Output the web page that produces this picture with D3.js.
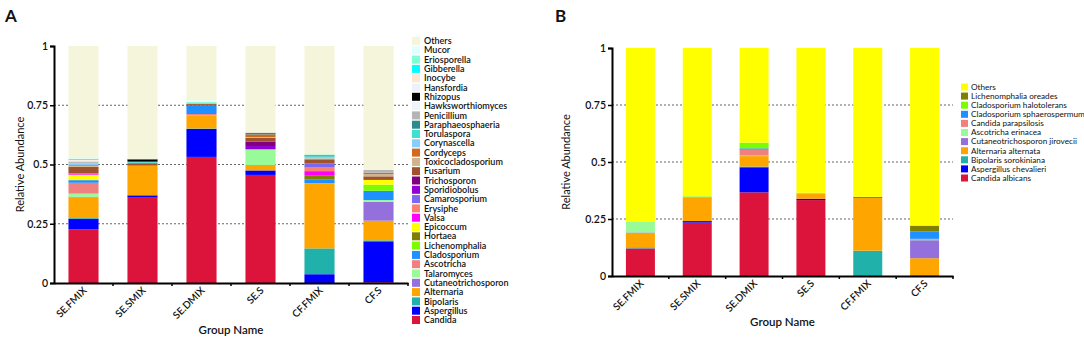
<!DOCTYPE html>
<html>
<head>
<meta charset="utf-8">
<script src="https://cdn.jsdelivr.net/npm/d3@7"></script>
<style>
  body { margin: 0; background: #fff; }
  text { font-family: Lato, 'Open Sans', sans-serif; fill: #111; }
</style>
</head>
<body>
<div id="chart"></div>
<script>
const groups = ['SE.FMIX', 'SE.SMIX', 'SE.DMIX', 'SE.S', 'CF.FMIX', 'CF.S'];
const yTicks = [0, 0.25, 0.5, 0.75, 1];

// panel A: genus level, listed bottom of the stack first
const taxaA = [
  'Candida', 'Aspergillus', 'Bipolaris', 'Alternaria', 'Cutaneotrichosporon',
  'Talaromyces', 'Ascotricha', 'Cladosporium', 'Lichenomphalia', 'Hortaea',
  'Epicoccum', 'Valsa', 'Erysiphe', 'Camarosporium', 'Sporidiobolus',
  'Trichosporon', 'Fusarium', 'Toxicocladosporium', 'Cordyceps', 'Corynascella',
  'Torulaspora', 'Paraphaeosphaeria', 'Penicillium', 'Hawksworthiomyces', 'Rhizopus',
  'Hansfordia', 'Inocybe', 'Gibberella', 'Eriosporella', 'Mucor', 'Others',
];
const colorsA = [
  '#dc143c', '#0000ff', '#20b2aa', '#ffa500', '#9370db',
  '#98fb98', '#f08080', '#1e90ff', '#7cfc00', '#808000',
  '#ffff00', '#ff00ff', '#fa8072', '#7b68ee', '#9400d3',
  '#800080', '#a0522d', '#d2b48c', '#d2691e', '#87cefa',
  '#40e0d0', '#2e8b8b', '#b5b5b5', '#eef6fd', '#000000',
  '#eaf2fb', '#fae6d2', '#00ffff', '#7fffd4', '#e0ffff', '#f5f5dc',
];
// one row per taxon, one value per group
const abundanceA = [
  [0.227, 0.360, 0.532, 0.456, 0.000, 0.003],
  [0.044, 0.010, 0.118, 0.019, 0.037, 0.173],
  [0.003, 0.000, 0.002, 0.000, 0.109, 0.004],
  [0.088, 0.124, 0.055, 0.023, 0.272, 0.083],
  [0.002, 0.000, 0.000, 0.000, 0.000, 0.080],
  [0.013, 0.000, 0.000, 0.066, 0.002, 0.007],
  [0.046, 0.000, 0.006, 0.000, 0.000, 0.000],
  [0.011, 0.002, 0.035, 0.000, 0.016, 0.039],
  [0.000, 0.000, 0.000, 0.000, 0.000, 0.026],
  [0.000, 0.000, 0.000, 0.000, 0.019, 0.000],
  [0.022, 0.000, 0.000, 0.000, 0.000, 0.020],
  [0.003, 0.000, 0.000, 0.000, 0.017, 0.000],
  [0.003, 0.000, 0.000, 0.000, 0.015, 0.000],
  [0.000, 0.000, 0.000, 0.000, 0.017, 0.000],
  [0.000, 0.000, 0.000, 0.014, 0.000, 0.000],
  [0.000, 0.000, 0.000, 0.019, 0.000, 0.000],
  [0.028, 0.006, 0.007, 0.016, 0.018, 0.015],
  [0.005, 0.000, 0.003, 0.003, 0.004, 0.010],
  [0.003, 0.004, 0.000, 0.011, 0.000, 0.005],
  [0.006, 0.000, 0.000, 0.000, 0.003, 0.000],
  [0.003, 0.004, 0.000, 0.000, 0.006, 0.000],
  [0.000, 0.000, 0.000, 0.006, 0.004, 0.000],
  [0.006, 0.002, 0.002, 0.002, 0.002, 0.012],
  [0.002, 0.000, 0.000, 0.000, 0.000, 0.000],
  [0.000, 0.010, 0.000, 0.000, 0.000, 0.000],
  [0.002, 0.000, 0.000, 0.000, 0.000, 0.002],
  [0.003, 0.000, 0.000, 0.000, 0.000, 0.000],
  [0.004, 0.000, 0.000, 0.000, 0.000, 0.000],
  [0.000, 0.002, 0.004, 0.000, 0.002, 0.000],
  [0.002, 0.000, 0.007, 0.000, 0.000, 0.000],
  [0.474, 0.476, 0.229, 0.365, 0.457, 0.521],
];

// panel B: species level
const taxaB = [
  'Candida albicans', 'Aspergillus chevalieri', 'Bipolaris sorokiniana',
  'Alternaria alternata', 'Cutaneotrichosporon jirovecii', 'Ascotricha erinacea',
  'Candida parapsilosis', 'Cladosporium sphaerospermum', 'Cladosporium halotolerans',
  'Lichenomphalia oreades', 'Others',
];
const colorsB = [
  '#dc143c', '#0000ff', '#20b2aa', '#ffa500', '#9370db', '#98fb98',
  '#f08080', '#1e90ff', '#7cfc00', '#808000', '#ffff00',
];
const abundanceB = [
  [0.121, 0.234, 0.367, 0.333, 0.000, 0.003],
  [0.000, 0.007, 0.110, 0.006, 0.000, 0.000],
  [0.005, 0.000, 0.003, 0.000, 0.111, 0.000],
  [0.063, 0.105, 0.046, 0.022, 0.231, 0.075],
  [0.002, 0.000, 0.000, 0.000, 0.000, 0.079],
  [0.046, 0.002, 0.002, 0.000, 0.000, 0.002],
  [0.000, 0.000, 0.026, 0.000, 0.000, 0.004],
  [0.000, 0.000, 0.006, 0.000, 0.005, 0.033],
  [0.000, 0.002, 0.025, 0.004, 0.000, 0.000],
  [0.000, 0.000, 0.000, 0.000, 0.000, 0.025],
  [0.763, 0.650, 0.415, 0.635, 0.653, 0.779],
];

const svg = d3.select('#chart')
  .append('svg')
  .attr('width', 1084)
  .attr('height', 340);

const drawPanel = ({letter, taxa, colors, abundance, box, legend}) => {
  const g = svg.append('g');

  const x = d3.scaleBand()
    .domain(groups)
    .range([box.left, box.right])
    .paddingInner(0.49)
    .paddingOuter(0.245);

  const y = d3.scaleLinear()
    .domain([0, 1])
    .range([box.bottom, box.top]);

  // rows -> one record per group, so d3.stack can do the work
  const table = groups.map((grp, j) => {
    const row = {group: grp};
    taxa.forEach((t, i) => { row[t] = abundance[i][j]; });
    return row;
  });
  const series = d3.stack().keys(taxa)(table);
  const color = d3.scaleOrdinal().domain(taxa).range(colors);

  // dotted guides
  g.append('g')
    .selectAll('line')
    .data(yTicks.filter((d) => d > 0 && d < 1))
    .join('line')
    .attr('x1', box.left)
    .attr('x2', box.right)
    .attr('y1', (d) => y(d))
    .attr('y2', (d) => y(d))
    .attr('stroke', '#666')
    .attr('stroke-width', 1)
    .attr('stroke-dasharray', '2,2');

  g.append('g')
    .selectAll('g')
    .data(series)
    .join('g')
    .attr('fill', (s) => color(s.key))
    .selectAll('rect')
    .data((s) => s)
    .join('rect')
    .attr('x', (d) => x(d.data.group))
    .attr('width', x.bandwidth())
    .attr('y', (d) => y(d[1]))
    .attr('height', (d) => y(d[0]) - y(d[1]));

  const yAxis = g.append('g')
    .attr('transform', `translate(${box.left},0)`)
    .call(d3.axisLeft(y).tickValues(yTicks).tickFormat((d) => String(d)).tickSize(4).tickPadding(2));
  yAxis.select('.domain').attr('stroke', '#000').attr('stroke-width', 2);
  yAxis.selectAll('.tick line').attr('stroke', '#000').attr('stroke-width', 1.5);
  yAxis.selectAll('.tick text')
    .attr('font-size', 10.5)
    .attr('font-weight', 600)
    .style('font-family', 'Lato, sans-serif')
    .style('fill', '#111');

  const xAxis = g.append('g')
    .attr('transform', `translate(0,${box.bottom})`)
    .call(d3.axisBottom(x).tickSize(3).tickSizeOuter(0));
  xAxis.select('.domain').attr('stroke', '#000').attr('stroke-width', 2);
  // ticks sit between the bars, not under them
  xAxis.selectAll('.tick line')
    .attr('stroke', '#000')
    .attr('stroke-width', 1.5)
    .attr('transform', `translate(${x.step() / 2},0)`);
  xAxis.selectAll('.tick text')
    .attr('font-size', 10)
    .attr('font-weight', 600)
    .style('font-family', 'Lato, sans-serif')
    .attr('x', -3)
    .attr('y', 5)
    .attr('dy', '0.35em')
    .attr('transform', 'rotate(-45)')
    .style('text-anchor', 'end')
    .style('fill', '#111');

  g.append('text')
    .attr('x', (box.left + box.right) / 2)
    .attr('y', box.nameY)
    .attr('text-anchor', 'middle')
    .attr('font-size', 11.5)
    .attr('font-weight', 600)
    .text('Group Name');

  g.append('text')
    .attr('transform', `translate(${box.labelX},${(box.top + box.bottom) / 2}) rotate(-90)`)
    .attr('text-anchor', 'middle')
    .attr('font-size', 11)
    .text('Relative Abundance');

  g.append('text')
    .attr('x', box.letterX)
    .attr('y', 22)
    .attr('font-size', 17)
    .attr('font-weight', 'bold')
    .text(letter);

  // legend, top of the stack first
  const items = g.append('g')
    .selectAll('g')
    .data(taxa.slice().reverse())
    .join('g')
    .attr('transform', (d, i) => `translate(${legend.x},${legend.y + i * legend.step})`);
  items.append('rect')
    .attr('x', 0)
    .attr('y', -legend.size / 2)
    .attr('width', legend.size)
    .attr('height', legend.size)
    .attr('fill', (d) => color(d));
  items.append('text')
    .attr('x', legend.size + legend.gap)
    .attr('dy', '0.35em')
    .attr('font-size', legend.font)
    .attr('font-weight', legend.weight)
    .text((d) => d);
};

drawPanel({
  letter: 'A',
  taxa: taxaA,
  colors: colorsA,
  abundance: abundanceA,
  box: {left: 54, right: 408, top: 46, bottom: 283, labelX: 24, nameY: 334, letterX: 5},
  legend: {x: 412, y: 41, step: 9.3, size: 8, gap: 4, font: 9, weight: 600},
});

drawPanel({
  letter: 'B',
  taxa: taxaB,
  colors: colorsB,
  abundance: abundanceB,
  box: {left: 612, right: 953, top: 48, bottom: 276, labelX: 570, nameY: 326, letterX: 555},
  legend: {x: 961, y: 87, step: 9.1, size: 7, gap: 3, font: 8.2, weight: 400},
});
</script>
</body>
</html>
